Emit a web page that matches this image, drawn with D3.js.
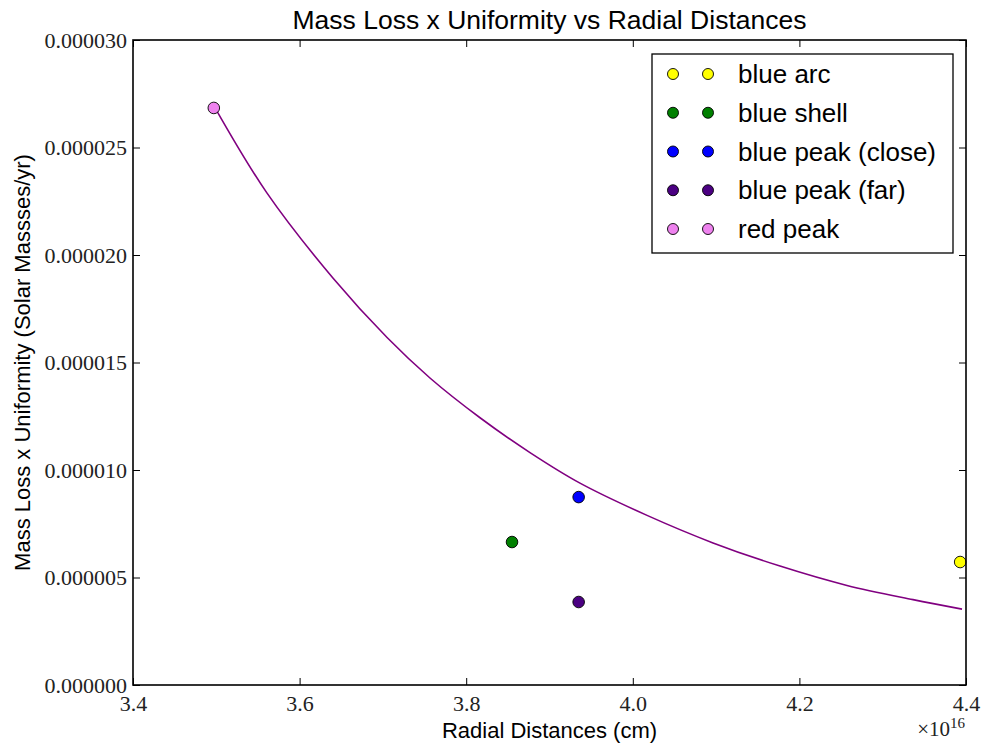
<!DOCTYPE html>
<html><head><meta charset="utf-8">
<script src="https://cdn.jsdelivr.net/npm/d3@7"></script>
<style>body{margin:0;background:#fff}</style>
</head><body>
<svg id="c" width="982" height="747"></svg>
<script>
// Data (x in units of 1e16 cm, y in 1e-6 Solar Masses/yr)
const categories = ["blue arc", "blue shell", "blue peak (close)", "blue peak (far)", "red peak"];
const colors = ["#ffff00", "#008000", "#0000ff", "#4b0082", "#ee82ee"];
const pointX = [4.393, 3.855, 3.935, 3.935, 3.497];
const pointY = [5.72, 6.65, 8.74, 3.86, 26.84];
const fitX = [3.498, 3.5605, 3.640, 3.705, 3.7565, 3.8166, 3.8766, 3.9366, 4.0171, 4.0963, 4.1767, 4.2571, 4.3364, 4.3952];
const fitY = [26.88, 22.9, 18.93, 16.16, 14.28, 12.43, 10.81, 9.39, 7.89, 6.61, 5.53, 4.63, 3.97, 3.53];
const xTicks = [3.4, 3.6, 3.8, 4.0, 4.2, 4.4];
const yTicks = [0, 5, 10, 15, 20, 25, 30];

(function () {
const svg = d3.select("#c");
const L = 133, R = 966, T = 40, B = 685;
const x = d3.scaleLinear().domain([3.4, 4.4]).range([L, R]);
const y = d3.scaleLinear().domain([0, 30]).range([B, T]);
const serif = "'Liberation Serif','DejaVu Serif',serif";
const sans = "'Liberation Sans',Arial,sans-serif";

// fit curve
svg.append("path")
  .datum(fitX.map((v, i) => [v, fitY[i]]))
  .attr("fill", "none").attr("stroke", "#800080").attr("stroke-width", 1.6)
  .attr("d", d3.line().x(d => x(d[0])).y(d => y(d[1])).curve(d3.curveCatmullRom.alpha(0.5)));

// points
svg.selectAll("circle.pt").data(categories).enter().append("circle")
  .attr("class", "pt")
  .attr("cx", (d, i) => x(pointX[i])).attr("cy", (d, i) => y(pointY[i]))
  .attr("r", 5.8).attr("fill", (d, i) => colors[i])
  .attr("stroke", "#000").attr("stroke-width", 0.9);

// axes with inward ticks
const fmtY = v => (v * 1e-6).toFixed(6);
const axB = svg.append("g").attr("transform", `translate(0,${B})`)
  .call(d3.axisBottom(x).tickValues(xTicks).tickSizeInner(-7).tickSizeOuter(0).tickPadding(10).tickFormat(d3.format(".1f")));
const axT = svg.append("g").attr("transform", `translate(0,${T})`)
  .call(d3.axisTop(x).tickValues(xTicks).tickSizeInner(-7).tickSizeOuter(0).tickFormat(""));
const axL = svg.append("g").attr("transform", `translate(${L},0)`)
  .call(d3.axisLeft(y).tickValues(yTicks).tickSizeInner(-7).tickSizeOuter(0).tickPadding(6).tickFormat(fmtY));
const axR = svg.append("g").attr("transform", `translate(${R},0)`)
  .call(d3.axisRight(y).tickValues(yTicks).tickSizeInner(-7).tickSizeOuter(0).tickFormat(""));
[axB, axT, axL, axR].forEach(g => {
  g.select(".domain").remove();
  g.selectAll("line").attr("stroke", "#000").attr("stroke-width", 1);
  g.selectAll("text").attr("font-family", serif).attr("font-size", 22).attr("fill", "#222");
});
axB.selectAll("text").attr("dy", "0.71em");
axL.selectAll("text").attr("dy", "0.32em");

// frame
svg.append("rect").attr("x", L).attr("y", T).attr("width", R - L).attr("height", B - T)
  .attr("fill", "none").attr("stroke", "#000").attr("stroke-width", 1.6);

// offset label
const off = svg.append("text").attr("x", 965).attr("y", 736).attr("text-anchor", "end")
  .attr("font-family", serif).attr("font-size", 21).attr("fill", "#222");
off.append("tspan").text("×10");
off.append("tspan").attr("font-size", 15).attr("dy", -8).text("16");

// title and labels
svg.append("text").attr("x", (L + R) / 2).attr("y", 29).attr("text-anchor", "middle")
  .attr("font-family", sans).attr("font-size", 26.5).text("Mass Loss x Uniformity vs Radial Distances");
svg.append("text").attr("x", (L + R) / 2).attr("y", 738).attr("text-anchor", "middle")
  .attr("font-family", sans).attr("font-size", 22).text("Radial Distances (cm)");
svg.append("text").attr("transform", `translate(30,${(T + B) / 2}) rotate(-90)`).attr("text-anchor", "middle")
  .attr("font-family", sans).attr("font-size", 22).text("Mass Loss x Uniformity (Solar Massses/yr)");

// legend
const lg = svg.append("g");
lg.append("rect").attr("x", 652).attr("y", 54).attr("width", 301).attr("height", 199)
  .attr("fill", "#fff").attr("stroke", "#000").attr("stroke-width", 1.3);
const rowY = d3.scaleLinear().domain([0, 4]).range([74, 229]);
categories.forEach((c, i) => {
  [673, 708].forEach(cx => lg.append("circle").attr("cx", cx).attr("cy", rowY(i)).attr("r", 5.5)
    .attr("fill", colors[i]).attr("stroke", "#000").attr("stroke-width", 0.9));
  lg.append("text").attr("x", 738).attr("y", rowY(i)).attr("dy", "0.35em")
    .attr("font-family", sans).attr("font-size", 26).text(c);
});
})();
</script>
</body></html>
